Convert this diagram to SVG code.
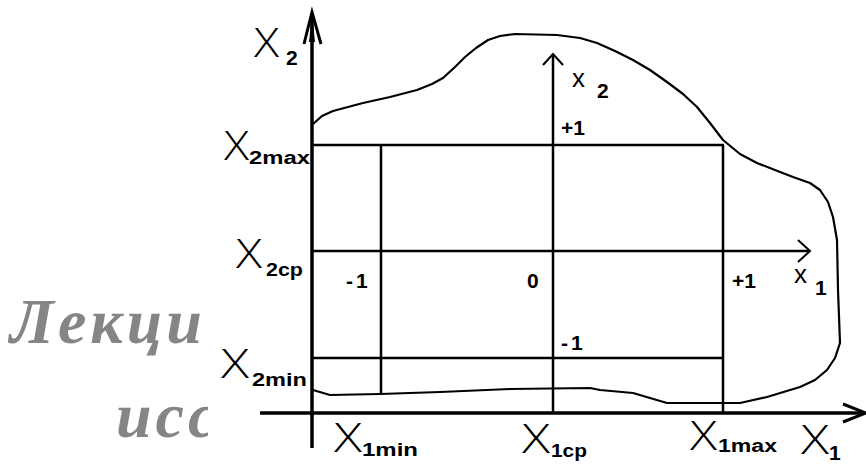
<svg xmlns="http://www.w3.org/2000/svg" width="866" height="466" viewBox="0 0 866 466">
<defs>
<style>
.bg{fill:#fff}
.wm{font-family:"Liberation Serif",serif;font-style:italic;font-weight:bold;font-size:64px;fill:#858585;letter-spacing:4px}
.ln{stroke:#000;stroke-width:2.5;fill:none}
.ax{stroke:#000;stroke-width:3.5;fill:none}
.cv{stroke:#000;stroke-width:2.2;fill:none;stroke-linejoin:round}
.X{font-family:"Open Sans","Liberation Sans",sans-serif;font-weight:300;font-size:40px;fill:#000}
.sub{font-family:"Liberation Sans",sans-serif;font-weight:bold;font-size:18px;fill:#000}
.sx{font-family:"Liberation Sans",sans-serif;font-size:26px;fill:#000}
.num{font-family:"Liberation Sans",sans-serif;font-weight:bold;font-size:21px;fill:#000}
</style>
<clipPath id="wmclip"><rect x="0" y="0" width="208" height="466"/></clipPath>
</defs>
<rect class="bg" x="0" y="0" width="866" height="466"/>
<g id="watermark" clip-path="url(#wmclip)">
<text class="wm" x="10" y="343">Лекци</text>
<text class="wm" x="116" y="437">исс</text>
</g>
<g id="region">
<polyline class="cv" points="313,124 322,116 333,111 363,103 390,97 417,90 432,84 443,78 455,67 465,57 476,48 488,40 500,36 515,34 557,35 580,38 597,43 615,51 633,60 650,70 667,82 683,94 697,107 710,123 723,140 740,154 757,163 775,170 793,177 810,183 820,190 828,202 833,217 837,240 838,290 840,343 835,358 827,370 815,380 800,387 767,397 740,403 667,403 633,393 600,390 590,388 510,389 440,392 380,394 330,395 313,390"/>
</g>
<g id="connectors">
<line class="ax" x1="312" y1="16" x2="312" y2="448"/>
<path d="M304,44 L312,12 L321,44" stroke="#000" stroke-width="3" fill="none"/>
<path d="M309,42 L312,14 L315,42 Z" fill="#000"/>
<line class="ax" x1="260" y1="413" x2="863" y2="413"/>
<path d="M843,404 L866,413 L843,422" stroke="#000" stroke-width="3" fill="none"/>
<line class="ln" x1="553" y1="55" x2="553" y2="413"/>
<path d="M543,65 L553,54 L563,65" stroke="#000" stroke-width="2" fill="none"/>
<line class="ln" x1="312" y1="251" x2="809" y2="251"/>
<path d="M798,240 L810,251 L798,262" stroke="#000" stroke-width="2" fill="none"/>
<line class="ln" x1="312" y1="145" x2="724" y2="145"/>
<line class="ln" x1="312" y1="358" x2="723" y2="358"/>
<line class="ln" x1="381" y1="145" x2="381" y2="394"/>
<line class="ln" x1="723" y1="145" x2="723" y2="413"/>
</g>
<g id="labels">
<text class="X" x="254" y="57" textLength="25" lengthAdjust="spacingAndGlyphs">X</text><text class="num" x="286" y="65">2</text>
<text class="X" x="224" y="160" textLength="25" lengthAdjust="spacingAndGlyphs">X</text><text class="sub" x="249" y="164" textLength="61" lengthAdjust="spacingAndGlyphs">2max</text>
<text class="X" x="236" y="268" textLength="26" lengthAdjust="spacingAndGlyphs">X</text><text class="sub" x="266" y="276" textLength="37" lengthAdjust="spacingAndGlyphs">2cp</text>
<text class="X" x="221" y="378" textLength="28" lengthAdjust="spacingAndGlyphs">X</text><text class="sub" x="252" y="386" textLength="55" lengthAdjust="spacingAndGlyphs">2min</text>
<text class="X" x="334" y="452" textLength="28" lengthAdjust="spacingAndGlyphs">X</text><text class="sub" x="362" y="456" textLength="56" lengthAdjust="spacingAndGlyphs">1min</text>
<text class="X" x="522" y="453" textLength="28" lengthAdjust="spacingAndGlyphs">X</text><text class="sub" x="551" y="457" textLength="36" lengthAdjust="spacingAndGlyphs">1cp</text>
<text class="X" x="690" y="450" textLength="27" lengthAdjust="spacingAndGlyphs">X</text><text class="sub" x="718" y="452" textLength="59" lengthAdjust="spacingAndGlyphs">1max</text>
<text class="X" x="801" y="454" textLength="28" lengthAdjust="spacingAndGlyphs">X</text><text class="num" x="829" y="460" font-size="16">1</text>
<text class="sx" x="572" y="87">x</text><text class="num" x="597" y="98">2</text>
<text class="sx" x="794" y="283">x</text><text class="num" x="815" y="295" font-size="17">1</text>
<text class="num" x="561" y="135">+1</text>
<text class="num" x="346" y="288" letter-spacing="3">-1</text>
<text class="num" x="527" y="288">0</text>
<text class="num" x="561" y="350" letter-spacing="3">-1</text>
<text class="num" x="732" y="288">+1</text>
</g>
</svg>
